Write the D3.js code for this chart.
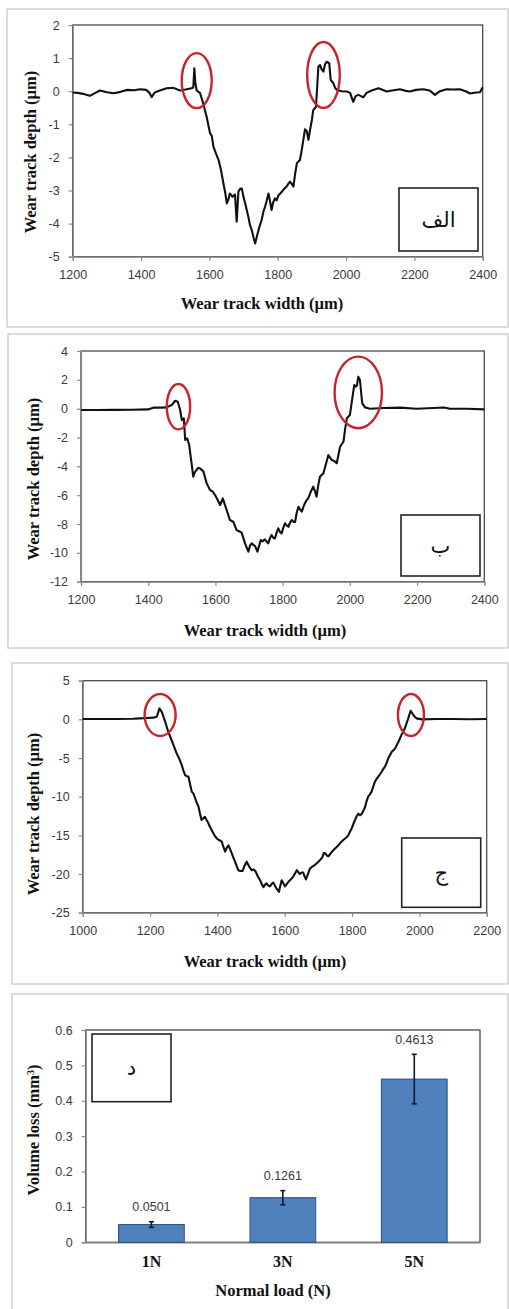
<!DOCTYPE html>
<html>
<head>
<meta charset="utf-8">
<script src="https://cdn.jsdelivr.net/npm/d3@7"></script>
<style>
  body { margin: 0; background: #fff; }
  svg { display: block; }
</style>
</head>
<body>
<svg id="fig" width="509" height="1309"></svg>
<script>
// ---- Wear-track profiles (width in µm, depth in µm) ----
const widthA = [1200,1215,1230,1250,1265,1280,1300,1320,1340,1360,1380,1397,1415,1425,1431,1440,1455,1475,1495,1514,1530,1548,1553,1556,1559,1563,1573,1582,1592,1602,1607,1612,1620,1627,1634,1641,1647,1651,1655,1660,1668,1675,1680,1685,1690,1695,1700,1705,1714,1719,1724,1730,1734,1739,1744,1748,1753,1758,1763,1768,1773,1778,1782,1787,1792,1797,1802,1812,1819,1826,1831,1836,1841,1846,1851,1856,1861,1865,1870,1875,1880,1885,1890,1895,1900,1904,1912,1916,1919,1924,1929,1934,1938,1943,1948,1951,1955,1963,1968,1973,1987,2002,2012,2021,2028,2036,2044,2051,2060,2075,2095,2110,2119,2135,2158,2175,2187,2205,2226,2245,2260,2275,2294,2315,2333,2350,2363,2380,2392,2400];
const depthA = [-0.04,-0.05,-0.08,-0.14,-0.06,0.02,-0.03,-0.06,-0.02,0.04,0.03,0.06,0.04,-0.05,-0.18,-0.04,0.02,0.09,0.10,0.02,0.05,0.09,0.12,0.69,0.25,0.02,-0.06,-0.37,-0.77,-1.27,-1.35,-1.68,-1.90,-2.08,-2.38,-2.78,-3.10,-3.39,-3.30,-3.09,-3.19,-3.12,-3.94,-3.04,-2.95,-2.94,-3.20,-3.39,-3.79,-4.05,-4.19,-4.45,-4.60,-4.39,-4.19,-4.05,-3.89,-3.65,-3.49,-3.30,-3.09,-3.35,-3.59,-3.35,-3.24,-3.30,-3.15,-3.04,-2.95,-2.88,-2.80,-2.73,-2.80,-2.88,-2.50,-2.18,-2.12,-2.08,-1.80,-1.47,-1.15,-1.20,-1.47,-1.15,-0.87,-0.57,-0.47,0.20,0.74,0.79,0.65,0.59,0.80,0.89,0.86,0.84,0.34,0.24,0.10,0.04,0.00,-0.01,-0.05,-0.32,-0.15,-0.11,-0.15,-0.18,-0.05,0.02,0.09,0.03,-0.01,0.02,0.06,0.01,-0.01,0.04,0.06,0.02,-0.11,0.00,0.06,0.05,0.06,0.00,-0.07,-0.04,-0.03,0.12];

const widthB = [1200,1250,1300,1350,1400,1415,1440,1455,1470,1480,1488,1495,1500,1506,1510,1516,1522,1529,1534,1539,1544,1549,1554,1564,1574,1584,1592,1599,1606,1614,1622,1630,1635,1643,1653,1663,1670,1678,1688,1698,1703,1708,1713,1718,1725,1730,1735,1741,1747,1752,1757,1762,1767,1772,1777,1782,1787,1792,1797,1802,1807,1812,1817,1822,1827,1832,1837,1842,1847,1852,1857,1862,1866,1871,1876,1883,1891,1896,1901,1906,1911,1916,1921,1928,1936,1941,1946,1951,1956,1961,1966,1971,1976,1981,1986,1991,1996,2000,2004,2008,2013,2018,2021,2025,2030,2034,2037,2045,2060,2100,2149,2199,2248,2280,2298,2350,2400];
const depthB = [-0.09,-0.09,-0.08,-0.07,-0.05,0.07,0.07,0.09,0.25,0.55,0.48,-0.09,-0.79,-0.67,-2.17,-2.06,-2.52,-3.79,-4.72,-4.40,-4.25,-4.10,-4.14,-4.35,-5.18,-5.64,-5.75,-5.99,-6.30,-6.68,-6.22,-6.80,-7.14,-7.72,-7.84,-8.42,-8.50,-8.60,-9.34,-9.92,-9.50,-9.34,-9.45,-9.53,-9.92,-9.50,-9.11,-9.20,-9.06,-9.20,-9.34,-9.00,-8.76,-8.95,-9.00,-8.60,-8.30,-8.55,-8.65,-8.25,-7.95,-8.10,-8.19,-7.90,-7.72,-7.85,-7.85,-7.20,-6.80,-7.00,-7.14,-6.80,-6.57,-6.35,-6.22,-5.80,-5.41,-5.70,-6.10,-5.30,-4.72,-4.60,-4.49,-3.90,-3.21,-3.40,-3.56,-3.60,-3.68,-3.79,-3.20,-2.64,-2.45,-2.29,-1.40,-0.67,-0.55,-0.44,0.20,0.83,1.64,1.53,1.60,2.22,1.99,1.00,0.37,0.09,0.00,0.05,0.07,0.00,0.05,0.08,0.00,0.00,-0.05];

const widthC = [1000,1050,1100,1150,1170,1190,1210,1220,1228,1235,1245,1254,1264,1272,1279,1287,1294,1299,1304,1309,1314,1319,1324,1329,1334,1339,1344,1348,1353,1358,1363,1368,1373,1378,1383,1390,1398,1405,1413,1418,1423,1428,1433,1440,1447,1455,1462,1468,1475,1481,1487,1494,1502,1508,1514,1520,1527,1532,1537,1541,1546,1551,1556,1561,1566,1571,1576,1583,1587,1591,1596,1601,1606,1611,1618,1626,1631,1636,1641,1645,1650,1655,1659,1663,1669,1675,1683,1690,1698,1705,1712,1716,1720,1725,1730,1737,1745,1752,1759,1767,1774,1782,1789,1794,1799,1804,1809,1814,1819,1824,1829,1834,1839,1843,1848,1853,1858,1863,1868,1873,1878,1883,1888,1893,1898,1903,1908,1913,1918,1923,1928,1933,1938,1943,1947,1952,1957,1962,1967,1971,1974,1978,1982,1987,1992,2007,2050,2100,2150,2200];
const depthC = [0.04,0.04,0.04,0.08,0.13,0.17,0.22,0.34,1.42,0.95,-0.30,-1.60,-2.67,-3.60,-4.40,-5.10,-5.90,-6.60,-7.20,-7.35,-7.40,-8.40,-9.35,-9.60,-10.20,-10.80,-11.30,-12.10,-13.00,-12.80,-12.60,-13.00,-13.40,-13.90,-14.30,-14.90,-15.40,-15.60,-15.80,-16.50,-17.10,-16.60,-16.30,-17.00,-17.80,-18.70,-19.50,-19.60,-19.60,-18.90,-18.40,-19.00,-19.50,-19.40,-19.70,-20.30,-20.80,-21.30,-21.70,-21.40,-21.20,-21.50,-21.60,-21.30,-21.10,-21.50,-21.90,-22.30,-21.50,-20.80,-21.20,-21.60,-21.30,-21.00,-20.70,-20.30,-19.90,-19.50,-19.80,-20.00,-19.80,-19.80,-20.30,-20.70,-20.00,-19.30,-19.00,-18.80,-18.50,-18.20,-17.80,-17.30,-17.30,-17.60,-17.70,-17.30,-16.90,-16.60,-16.30,-15.90,-15.60,-15.30,-15.00,-14.50,-14.10,-13.50,-13.00,-12.50,-12.20,-12.40,-12.20,-11.80,-11.30,-10.60,-10.00,-9.70,-9.35,-8.70,-8.06,-7.70,-7.40,-7.10,-6.77,-6.40,-6.10,-5.60,-5.00,-4.60,-4.20,-4.00,-3.75,-3.30,-2.90,-2.40,-2.00,-1.60,-1.16,-0.50,0.13,0.70,1.12,0.85,0.56,0.30,0.13,0.00,0.04,0.04,0.02,0.04];

// axis ticks
const xTicksAB = [1200,1400,1600,1800,2000,2200,2400];
const xTicksC = [1000,1200,1400,1600,1800,2000,2200];
const yTicksA = [2,1,0,-1,-2,-3,-4,-5];
const yTicksB = [4,2,0,-2,-4,-6,-8,-10,-12];
const yTicksC = [5,0,-5,-10,-15,-20,-25];

// ---- Volume loss vs. normal load ----
const loads = ["1N","3N","5N"];
const volumeLoss = [0.0501,0.1261,0.4613];
const volumeErr = [0.008,0.02,0.07];
const yTicksD = [0,0.1,0.2,0.3,0.4,0.5,0.6];

const svg = d3.select("#fig");
const TICK_FONT = "'Liberation Sans', Arial, sans-serif";
const TITLE_FONT = "'Liberation Serif', 'Times New Roman', serif";
const AR_FONT = "'DejaVu Sans', sans-serif";
const TICK_COLOR = "#3a3a3a";
const AXIS_COLOR = "#8a8a8a";
const BORDER_COLOR = "#4a4a4a";
const intLabel = d => String(d);  // plain hyphen for negatives

function frame(f) {
  svg.append("rect")
    .attr("x", f.x).attr("y", f.y).attr("width", f.w).attr("height", f.h)
    .attr("fill", "none").attr("stroke", "#cfcfcf").attr("stroke-width", 1.5);
}

function labelBox(b, text) {
  svg.append("rect")
    .attr("x", b.x0).attr("y", b.y0).attr("width", b.x1 - b.x0).attr("height", b.y1 - b.y0)
    .attr("fill", "#fff").attr("stroke", "#222").attr("stroke-width", 1.6);
  svg.append("text")
    .attr("x", (b.x0 + b.x1) / 2).attr("y", (b.y0 + b.y1) / 2)
    .attr("dy", "0.35em").attr("text-anchor", "middle")
    .attr("direction", "rtl")
    .style("font-family", AR_FONT).style("font-size", "21px").attr("fill", "#111")
    .text(text);
}

function titles(p) {
  svg.append("text")
    .attr("x", p.xTitle[0]).attr("y", p.xTitle[1]).attr("dy", "0.35em")
    .attr("text-anchor", "middle")
    .style("font-family", TITLE_FONT).style("font-weight", "bold").style("font-size", "16.5px")
    .attr("fill", "#111").text(p.xTitleText);
  const yt = svg.append("text")
    .attr("transform", `translate(${p.yTitle[0]},${p.yTitle[1]}) rotate(-90)`)
    .attr("dy", "0.35em").attr("text-anchor", "middle")
    .style("font-family", TITLE_FONT).style("font-weight", "bold").style("font-size", "16.5px")
    .attr("fill", "#111");
  if (p.yTitleSup) {
    yt.append("tspan").text(p.yTitleText);
    yt.append("tspan").attr("baseline-shift", "super").style("font-size", "10px").text(p.yTitleSup);
    yt.append("tspan").text(")");
  } else {
    yt.text(p.yTitleText);
  }
}

function styleAxis(g) {
  g.select(".domain").attr("stroke", AXIS_COLOR).attr("stroke-width", 1.2);
  g.selectAll(".tick line").attr("stroke", AXIS_COLOR).attr("stroke-width", 1.2);
  g.selectAll(".tick text")
    .style("font-family", TICK_FONT).style("font-size", "12.5px").attr("fill", TICK_COLOR);
}

function profilePanel(p, xs, ys) {
  frame(p.frame);
  const x = d3.scaleLinear().domain(p.xDomain).range([p.plot.l, p.plot.r]);
  const y = d3.scaleLinear().domain(p.yDomain).range([p.plot.b, p.plot.t]);

  // plot border
  svg.append("rect")
    .attr("x", p.plot.l).attr("y", p.plot.t)
    .attr("width", p.plot.r - p.plot.l).attr("height", p.plot.b - p.plot.t)
    .attr("fill", "none").attr("stroke", BORDER_COLOR).attr("stroke-width", 1.3);

  const gx = svg.append("g").attr("transform", `translate(0,${p.plot.b})`)
    .call(d3.axisBottom(x).tickValues(p.xTicks).tickSize(4).tickPadding(9).tickFormat(intLabel));
  styleAxis(gx);
  const gy = svg.append("g").attr("transform", `translate(${p.plot.l},0)`)
    .call(d3.axisLeft(y).tickValues(p.yTicks).tickSize(4).tickPadding(9).tickFormat(intLabel));
  styleAxis(gy);

  const pts = xs.map((v, i) => [v, ys[i]]);
  svg.append("path")
    .datum(pts)
    .attr("fill", "none").attr("stroke", "#111").attr("stroke-width", 2.1)
    .attr("stroke-linejoin", "round")
    .attr("d", d3.line().x(d => x(d[0])).y(d => y(d[1])));

  // highlighted pile-up regions
  p.rings.forEach(r => {
    svg.append("ellipse")
      .attr("cx", x(r.cx)).attr("cy", y(r.cy)).attr("rx", r.rx).attr("ry", r.ry)
      .attr("fill", "none").attr("stroke", "#c8232c").attr("stroke-width", 2.4);
  });

  labelBox(p.box, p.boxText);
  titles(p);
}

profilePanel({
  frame: { x: 7, y: 9, w: 501, h: 318 },
  plot: { l: 72.7, r: 482.7, t: 25, b: 256.7 },
  xDomain: [1200, 2400], yDomain: [-5, 2],
  xTicks: xTicksAB, yTicks: yTicksA,
  rings: [ { cx: 1563, cy: 0.32, rx: 15, ry: 27.5 }, { cx: 1934, cy: 0.49, rx: 16.3, ry: 33 } ],
  box: { x0: 399, x1: 478, y0: 188, y1: 251 }, boxText: "الف",
  xTitle: [262, 303], xTitleText: "Wear track width (µm)",
  yTitle: [30, 152], yTitleText: "Wear track depth (µm)"
}, widthA, depthA);

profilePanel({
  frame: { x: 8, y: 334, w: 500, h: 314 },
  plot: { l: 81, r: 484.3, t: 351, b: 581.7 },
  xDomain: [1200, 2400], yDomain: [-12, 4],
  xTicks: xTicksAB, yTicks: yTicksB,
  rings: [ { cx: 1490, cy: 0.14, rx: 11.7, ry: 22.7 }, { cx: 2025, cy: 1.13, rx: 23.7, ry: 35.8 } ],
  box: { x0: 401, x1: 480, y0: 515, y1: 576 }, boxText: "ب",
  xTitle: [265, 630], xTitleText: "Wear track width (µm)",
  yTitle: [33, 479], yTitleText: "Wear track depth (µm)"
}, widthB, depthB);

profilePanel({
  frame: { x: 12, y: 663, w: 496, h: 321 },
  plot: { l: 82.7, r: 486.7, t: 680.7, b: 912.7 },
  xDomain: [1000, 2200], yDomain: [-25, 5],
  xTicks: xTicksC, yTicks: yTicksC,
  rings: [ { cx: 1230, cy: 0.56, rx: 15.5, ry: 21 }, { cx: 1975, cy: 0.56, rx: 13, ry: 21 } ],
  box: { x0: 401.7, x1: 480.7, y0: 838, y1: 907.3 }, boxText: "ج",
  xTitle: [265, 961.7], xTitleText: "Wear track width (µm)",
  yTitle: [33, 814], yTitleText: "Wear track depth (µm)"
}, widthC, depthC);

// ---- bar chart panel ----
(function () {
  const plot = { l: 85.7, r: 480, t: 1030, b: 1242.3 };
  frame({ x: 12, y: 994, w: 496, h: 320 });
  const x = d3.scaleBand().domain(loads).range([plot.l, plot.r]).paddingInner(0.5).paddingOuter(0.25);
  const y = d3.scaleLinear().domain([0, 0.6]).range([plot.b, plot.t]);

  svg.append("rect")
    .attr("x", plot.l).attr("y", plot.t).attr("width", plot.r - plot.l).attr("height", plot.b - plot.t)
    .attr("fill", "none").attr("stroke", BORDER_COLOR).attr("stroke-width", 1.3);

  const gy = svg.append("g").attr("transform", `translate(${plot.l},0)`)
    .call(d3.axisLeft(y).tickValues(yTicksD).tickSize(4).tickPadding(9)
      .tickFormat(d => d === 0 ? "0" : d3.format(".1f")(d)));
  styleAxis(gy);
  const gx = svg.append("g").attr("transform", `translate(0,${plot.b})`)
    .call(d3.axisBottom(x).tickSize(0).tickPadding(13));
  gx.select(".domain").attr("stroke", AXIS_COLOR).attr("stroke-width", 1.2);
  gx.selectAll(".tick text")
    .style("font-family", TITLE_FONT).style("font-weight", "bold").style("font-size", "16px")
    .attr("fill", "#111");

  const rows = loads.map((k, i) => ({ k, v: volumeLoss[i], e: volumeErr[i] }));

  svg.selectAll("rect.bar").data(rows).join("rect")
    .attr("class", "bar")
    .attr("x", d => x(d.k)).attr("width", x.bandwidth())
    .attr("y", d => y(d.v)).attr("height", d => y(0) - y(d.v))
    .attr("fill", "#4f81bd").attr("stroke", "#2e4f7a").attr("stroke-width", 1);

  const eb = svg.selectAll("g.err").data(rows).join("g").attr("class", "err")
    .attr("stroke", "#141a2a").attr("stroke-width", 1.6);
  eb.append("line")
    .attr("x1", d => x(d.k) + x.bandwidth() / 2).attr("x2", d => x(d.k) + x.bandwidth() / 2)
    .attr("y1", d => y(d.v + d.e)).attr("y2", d => y(d.v - d.e));
  eb.append("line")
    .attr("x1", d => x(d.k) + x.bandwidth() / 2 - 2.5).attr("x2", d => x(d.k) + x.bandwidth() / 2 + 2.5)
    .attr("y1", d => y(d.v + d.e)).attr("y2", d => y(d.v + d.e));
  eb.append("line")
    .attr("x1", d => x(d.k) + x.bandwidth() / 2 - 2.5).attr("x2", d => x(d.k) + x.bandwidth() / 2 + 2.5)
    .attr("y1", d => y(d.v - d.e)).attr("y2", d => y(d.v - d.e));

  svg.selectAll("text.val").data(rows).join("text")
    .attr("class", "val")
    .attr("x", d => x(d.k) + x.bandwidth() / 2).attr("y", d => y(d.v + d.e) - 15)
    .attr("dy", "0.35em").attr("text-anchor", "middle")
    .style("font-family", TICK_FONT).style("font-size", "12.5px").attr("fill", TICK_COLOR)
    .text(d => d3.format(".4f")(d.v));

  labelBox({ x0: 92, x1: 171, y0: 1034, y1: 1101.7 }, "د");
  titles({
    xTitle: [273, 1290.7], xTitleText: "Normal load (N)",
    yTitle: [33, 1130], yTitleText: "Volume loss (mm", yTitleSup: "3"
  });
})();
</script>
</body>
</html>
